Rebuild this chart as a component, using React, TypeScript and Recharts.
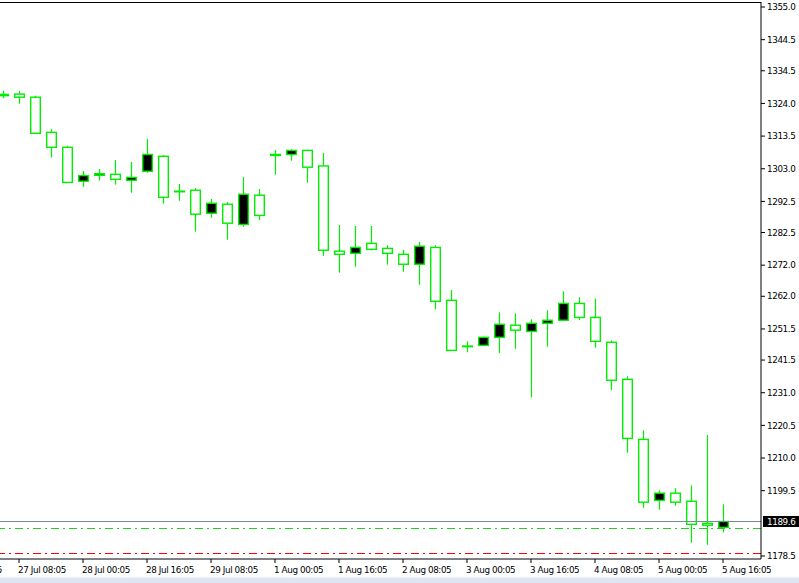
import React from "react";
import { ComposedChart, Bar, XAxis, YAxis, ReferenceLine } from "recharts";

// H4 candles, 27 Jul 04:05 .. 5 Aug 16:05
const times = [
  "27 Jul 04:05", "27 Jul 08:05", "27 Jul 12:05", "27 Jul 16:05", "27 Jul 20:05",
  "28 Jul 00:05", "28 Jul 04:05", "28 Jul 08:05", "28 Jul 12:05", "28 Jul 16:05", "28 Jul 20:05",
  "29 Jul 00:05", "29 Jul 04:05", "29 Jul 08:05", "29 Jul 12:05", "29 Jul 16:05", "29 Jul 20:05",
  "1 Aug 00:05", "1 Aug 04:05", "1 Aug 08:05", "1 Aug 12:05", "1 Aug 16:05", "1 Aug 20:05",
  "2 Aug 00:05", "2 Aug 04:05", "2 Aug 08:05", "2 Aug 12:05", "2 Aug 16:05", "2 Aug 20:05",
  "3 Aug 00:05", "3 Aug 04:05", "3 Aug 08:05", "3 Aug 12:05", "3 Aug 16:05", "3 Aug 20:05",
  "4 Aug 00:05", "4 Aug 04:05", "4 Aug 08:05", "4 Aug 12:05", "4 Aug 16:05", "4 Aug 20:05",
  "5 Aug 00:05", "5 Aug 04:05", "5 Aug 08:05", "5 Aug 12:05", "5 Aug 16:05",
];

const opens = [
  1326.9, 1327.0, 1326.0, 1314.7, 1309.9, 1299.0, 1300.9, 1301.2, 1299.3, 1302.2,
  1307.0, 1295.8, 1296.1, 1288.7, 1291.6, 1285.1, 1294.5, 1307.6, 1307.6, 1308.9,
  1303.9, 1276.5, 1275.8, 1279.0, 1277.4, 1275.5, 1272.3, 1277.7, 1260.7, 1246.0,
  1246.2, 1248.8, 1252.7, 1250.7, 1253.3, 1254.3, 1259.7, 1255.2, 1247.2, 1235.3,
  1216.0, 1196.4, 1198.7, 1196.1, 1189.0, 1187.7,
];
const highs = [
  1328.1, 1328.0, 1326.5, 1315.8, 1310.3, 1302.3, 1302.9, 1305.8, 1305.2, 1312.6,
  1307.4, 1298.1, 1296.8, 1293.3, 1292.3, 1300.3, 1296.5, 1309.0, 1309.3, 1309.1,
  1308.1, 1284.9, 1284.6, 1284.6, 1278.4, 1276.9, 1279.5, 1278.4, 1264.0, 1247.5,
  1249.0, 1256.8, 1256.5, 1254.6, 1257.5, 1263.6, 1261.7, 1261.3, 1247.8, 1236.3,
  1218.9, 1199.6, 1200.3, 1201.2, 1217.4, 1195.1,
];
const lows = [
  1325.7, 1323.9, 1314.2, 1306.6, 1298.4, 1297.2, 1299.2, 1297.9, 1295.3, 1301.7,
  1291.8, 1292.7, 1282.8, 1287.3, 1280.2, 1284.4, 1286.5, 1301.1, 1305.6, 1298.5,
  1275.0, 1269.6, 1271.5, 1276.7, 1272.2, 1269.9, 1265.7, 1257.8, 1244.5, 1244.0,
  1246.0, 1243.7, 1245.1, 1229.5, 1245.8, 1254.1, 1254.3, 1245.5, 1231.8, 1211.7,
  1194.0, 1193.4, 1194.7, 1182.8, 1182.1, 1186.1,
];
const closes = [
  1326.5, 1326.0, 1314.4, 1309.9, 1298.6, 1300.8, 1301.4, 1299.6, 1300.2, 1307.6,
  1293.8, 1295.6, 1288.4, 1291.9, 1285.5, 1294.8, 1288.0, 1307.3, 1308.9, 1303.5,
  1276.8, 1275.5, 1277.7, 1277.1, 1275.8, 1272.3, 1278.1, 1260.4, 1244.6, 1245.8,
  1248.8, 1253.0, 1251.1, 1253.3, 1254.3, 1259.7, 1255.2, 1247.5, 1235.0, 1216.3,
  1195.8, 1198.7, 1195.8, 1188.7, 1188.4, 1189.6,
];

const xTicks = [-3, 1, 5, 9, 13, 17, 21, 25, 29, 33, 37, 41, 45];
const xTickLabels = [
  "27 Jul 00:05", "27 Jul 08:05", "28 Jul 00:05", "28 Jul 16:05", "29 Jul 08:05",
  "1 Aug 00:05", "1 Aug 16:05", "2 Aug 08:05", "3 Aug 00:05", "3 Aug 16:05",
  "4 Aug 08:05", "5 Aug 00:05", "5 Aug 16:05",
];
const yTicks = [
  1355.0, 1344.5, 1334.5, 1324.0, 1313.5, 1303.0, 1292.5, 1282.5, 1272.0,
  1262.0, 1251.5, 1241.5, 1231.0, 1220.5, 1210.0, 1199.5, 1178.5,
];

const bidPrice = 1189.6;
const greenLevel = 1187.4;
const redLevel = 1179.4;
const yMin = 1177.54;
const yMax = 1356.61;

const GREEN = "#00ee00";
const FONT = "DejaVu Sans";

const data = times.map((t, i) => ({
  i,
  time: t,
  open: opens[i],
  high: highs[i],
  low: lows[i],
  close: closes[i],
}));

const Candle = (props: any) => {
  const { x, y, width, height, payload } = props;
  if (x == null || y == null) return null;
  const { open, close, high, low } = payload;
  const top = Math.min(y, y + height);
  const h = Math.abs(height);
  const span = high - low || 1;
  const toY = (p: number) => top + ((high - p) / span) * h;
  const cx = Math.round(x + width / 2) + 0.5;
  const yo = toY(open);
  const yc = toY(close);
  const bTop = Math.min(yo, yc);
  const bH = Math.max(Math.abs(yo - yc), 0.5);
  const bull = close > open;
  return (
    <g>
      <line x1={cx} x2={cx} y1={top} y2={top + h} stroke={GREEN} strokeWidth={1.2} />
      <rect
        x={cx - 4.8}
        y={bTop}
        width={9.6}
        height={bH}
        fill={bull ? "#000" : "#fff"}
        stroke={GREEN}
        strokeWidth={1.4}
      />
    </g>
  );
};

const XTick = (props: any) => {
  const { x, y, payload } = props;
  const idx = xTicks.indexOf(payload.value);
  return (
    <text x={x - 1} y={y} dy={7.5} textAnchor="start" fontSize={8.8} fontFamily={FONT} letterSpacing={-0.4} fill="#000">
      {xTickLabels[idx]}
    </text>
  );
};

const YTick = (props: any) => {
  const { x, y, payload } = props;
  return (
    <text x={x} y={y} dy={3.2} textAnchor="start" fontSize={8.8} fontFamily={FONT} letterSpacing={-0.4} fill="#000">
      {Number(payload.value).toFixed(1)}
    </text>
  );
};

const BidLabel = (props: any) => {
  const { viewBox } = props;
  if (!viewBox) return null;
  const { x, y, width } = viewBox;
  return (
    <g>
      <rect x={x + width + 2} y={y - 5.5} width={36} height={11} fill="#000" />
      <text x={x + width + 6} y={y} dy={3.2} fontSize={8.8} fontFamily={FONT} letterSpacing={-0.4} fill="#fff">
        {bidPrice.toFixed(1)}
      </text>
    </g>
  );
};

export default function App() {
  return (
    <div style={{ position: "absolute", left: 0, top: 0, width: 799, height: 583, background: "#fff", overflow: "hidden" }}>
      <ComposedChart width={799} height={583} data={data} margin={{ top: 2, right: 0, bottom: 0, left: 0 }}>
        <XAxis
          type="number"
          dataKey="i"
          domain={[-0.1875, 47.375]}
          allowDataOverflow
          ticks={xTicks}
          interval={0}
          height={24}
          tickSize={4}
          tickMargin={2}
          stroke="#000"
          tick={<XTick />}
        />
        <YAxis
          orientation="right"
          type="number"
          domain={[yMin, yMax]}
          allowDataOverflow
          ticks={yTicks}
          interval={0}
          width={38}
          tickSize={4}
          tickMargin={2}
          stroke="#000"
          tick={<YTick />}
        />
        <ReferenceLine y={yMax} stroke="#000" strokeWidth={1} shapeRendering="crispEdges" />
        <Bar
          dataKey={(d: any) => [d.low, d.high]}
          barSize={10}
          isAnimationActive={false}
          shape={(p: any) => <Candle {...p} />}
        />
        <ReferenceLine y={redLevel} stroke="#ff0000" strokeDasharray="8 4 2 4" shapeRendering="crispEdges" />
        <ReferenceLine y={greenLevel} stroke="#22cc22" strokeDasharray="8 4 2 4" shapeRendering="crispEdges" />
        <ReferenceLine y={bidPrice} stroke="#778899" shapeRendering="crispEdges" label={<BidLabel />} />
      </ComposedChart>
      <div style={{ position: "absolute", left: 0, top: 577, width: 799, height: 6, background: "#dde6f2", borderTop: "1px solid #eef2f8" }} />
    </div>
  );
}
